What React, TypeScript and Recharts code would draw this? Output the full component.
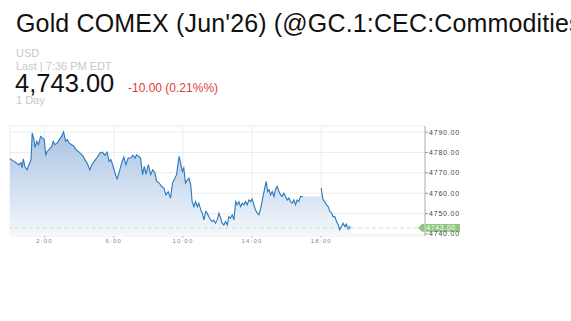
import React from "react";
import {
  ComposedChart,
  Area,
  Line,
  XAxis,
  YAxis,
  CartesianGrid,
  ReferenceLine,
  ReferenceDot,
} from "recharts";

// Day session (minutes after 0:00) and prices
const dayMinutes = [
  0, 10, 21, 31, 38, 42, 46, 52, 59, 64, 69, 73, 77, 83, 87, 93, 99, 106, 112, 119, 124, 129, 135, 145, 150, 156, 164, 171, 179, 186, 193, 199, 205, 214, 222, 229, 237, 246, 254, 260, 269, 277, 284, 292,
  301, 312, 321, 329, 337, 344, 350, 358, 368, 372, 381, 389, 395, 402, 410, 419, 426, 434, 439, 447, 453, 460, 466, 472, 480, 488, 495, 503, 509, 518, 526, 534, 541, 549, 557, 564, 572,
  578, 584, 587, 593, 598, 603, 609, 616, 621, 627, 632, 638, 644, 650, 655, 662, 667, 673, 679, 684, 690, 696, 702, 707, 713, 719, 725, 731, 736, 742, 748, 754, 759, 765, 771, 777, 783, 788, 794, 800, 806, 812, 817, 823, 829, 835, 840, 846, 852, 858, 864, 870, 878, 884, 889, 894, 899, 904, 910, 916, 921, 927, 933, 939, 944, 950, 956, 962, 968, 973, 979, 985, 991, 996, 1002, 1008, 1016,
];
const dayPrices = [
  4776.9, 4776.0, 4775.0, 4774.0, 4775.0, 4772.5, 4776.9, 4773.0, 4771.5, 4773.5, 4775.0, 4776.5, 4789.6, 4786.3, 4782.5, 4785.5, 4783.8, 4787.9, 4787.3, 4786.3, 4778.9, 4780.5, 4781.4, 4783.0, 4785.5, 4783.8, 4784.7, 4786.3, 4787.9, 4790.1, 4785.5, 4786.3, 4784.7, 4783.8, 4783.0, 4781.4, 4780.5, 4779.3, 4778.1, 4776.5, 4774.3, 4771.5, 4774.0, 4775.6,
  4777.3, 4779.8, 4780.2, 4778.6, 4780.2, 4775.6, 4776.5, 4773.2, 4768.2, 4767.1, 4771.5, 4775.6, 4777.8, 4774.0, 4777.3, 4777.3, 4778.6, 4777.3, 4778.9, 4778.1, 4777.3, 4769.1, 4773.2, 4769.4, 4774.0, 4769.1, 4771.5, 4769.9, 4765.8, 4765.0, 4763.3, 4762.5, 4759.2, 4760.8, 4757.6, 4765.0, 4767.4,
  4769.1, 4775.6, 4778.1, 4774.0, 4770.7, 4772.4, 4765.0, 4766.6, 4767.4, 4764.1, 4755.9, 4753.4, 4755.9, 4753.4, 4755.1, 4751.8, 4750.2, 4746.9, 4751.0, 4750.2, 4748.5, 4746.9, 4746.1, 4746.9, 4745.3, 4746.9, 4750.2, 4747.7, 4745.3, 4744.4, 4746.1, 4744.4, 4748.5, 4747.7, 4749.4, 4746.9, 4755.9, 4754.3, 4755.9, 4753.4, 4755.1, 4754.3, 4755.9, 4754.3, 4756.7, 4755.9, 4757.2, 4754.3, 4751.8, 4750.2, 4749.4, 4752.7, 4758.4, 4762.5, 4765.8, 4760.8, 4761.7, 4759.2, 4760.8, 4758.4, 4761.7, 4763.3, 4760.8, 4759.2, 4758.4, 4760.0, 4758.4, 4756.7, 4757.6, 4755.9, 4755.1, 4756.7, 4754.3, 4756.7, 4755.9, 4758.4, 4758.4,
];
// Evening session after the 17:00-18:00 break
const eveningMinutes = [1080, 1084, 1087, 1092, 1098, 1104, 1110, 1116, 1121, 1127, 1133, 1139, 1144, 1150, 1156, 1162, 1167, 1172, 1176];
const eveningPrices = [4762.5, 4758.4, 4756.7, 4755.9, 4754.3, 4753.4, 4751.0, 4750.2, 4748.5, 4748.5, 4746.1, 4744.4, 4742.0, 4743.6, 4745.3, 4743.6, 4744.8, 4742.5, 4743.0];

const yTicks = [4740, 4750, 4760, 4770, 4780, 4790];
const xTicks = [120, 360, 600, 840, 1080];
const lastPrice = 4743.0;
const changeText = "-10.00 (0.21%%)";

const breakLevel = dayPrices[dayPrices.length - 1];
const data: any[] = [
  ...dayMinutes.map((t, i) => ({ t, price: dayPrices[i], fillv: dayPrices[i] })),
  { t: dayMinutes[dayMinutes.length - 1] + 1, price: null, fillv: breakLevel },
  { t: eveningMinutes[0] - 1, price: null, fillv: breakLevel },
  ...eveningMinutes.map((t, i) => ({ t, price: eveningPrices[i], fillv: eveningPrices[i] })),
];

const FONT = "'Liberation Sans', Arial, Helvetica, sans-serif";

const PriceTag = (props: any) => {
  const vb = props.viewBox || {};
  const x = (vb.x || 0) + (vb.width || 0);
  const y = vb.y || 0;
  return (
    <g>
      <polygon
        points={`${x - 7},${y} ${x - 3},${y - 3.8} ${x + 35},${y - 3.8} ${x + 35},${y + 3.8} ${x - 3},${y + 3.8}`}
        fill="#8fc67c"
      />
      <text x={x + 16} y={y + 2.6} textAnchor="middle" fontSize={7} fill="#ffffff" fontFamily={FONT} letterSpacing={0.6}>
        {lastPrice.toFixed(2)}
      </text>
    </g>
  );
};

// lineHeight 0.8: baseline = top + fs * 0.7465
const txt = (baseline: number, left: number, fs: number, color: string, content: string, ls = 0) => (
  <div
    style={{
      position: "absolute",
      top: baseline - fs * 0.7465,
      left,
      fontSize: fs,
      lineHeight: 0.8,
      height: fs * 0.8,
      color,
      fontFamily: FONT,
      whiteSpace: "nowrap",
      letterSpacing: ls,
    }}
  >
    {content}
  </div>
);

export default function App() {
  return (
    <div
      style={{
        position: "absolute",
        top: 0,
        left: 0,
        width: 571,
        height: 321,
        overflow: "hidden",
        background: "#ffffff",
      }}
    >
      {txt(32, 16, 25, "#111111", "Gold COMEX (Jun'26) (@GC.1:CEC:Commodities)", 0.15)}
      {txt(57.4, 16, 11, "#c8c8c8", "USD")}
      {txt(70.7, 16, 11, "#c8c8c8", "Last | 7:36 PM EDT")}
      {txt(92.3, 15, 25.5, "#111111", lastPrice.toLocaleString("en-US", { minimumFractionDigits: 2 }))}
      {txt(93.3, 128, 12, "#e53935", changeText)}
      {txt(104, 16, 11, "#c8c8c8", "1 Day")}
      <div style={{ position: "absolute", top: 120, left: 0 }}>
        <ComposedChart width={480} height={130} data={data} margin={{ top: 6, right: 0, bottom: 0, left: 10 }}>
          <defs>
            <linearGradient id="goldFill" x1="0" y1="0" x2="0" y2="1">
              <stop offset="0%" stopColor="#a8c3e3" stopOpacity={1} />
              <stop offset="100%" stopColor="#f5f8fc" stopOpacity={1} />
            </linearGradient>
          </defs>
          <CartesianGrid stroke="#ececec" strokeWidth={1} />
          <XAxis
            dataKey="t"
            type="number"
            domain={[0, 1440]}
            ticks={xTicks}
            tickFormatter={(v: number) => `${Math.floor(v / 60)}:00`}
            height={14}
            axisLine={false}
            tickLine={{ stroke: "#bbbbbb" }}
            tickSize={2}
            tickMargin={1}
            tick={{ fontSize: 6, fill: "#888888", fontFamily: FONT, letterSpacing: 1.2 }}
            interval={0}
          />
          <YAxis
            orientation="right"
            domain={[4739, 4793]}
            ticks={yTicks}
            tickFormatter={(v: number) => v.toFixed(2)}
            width={55}
            axisLine={{ stroke: "#c8c8c8", strokeWidth: 1.5 }}
            tickLine={{ stroke: "#999999" }}
            tickSize={3}
            tickMargin={1}
            tick={{ fontSize: 7, fill: "#444444", fontFamily: FONT, letterSpacing: 0.8, textAnchor: "start" }}
            interval={0}
            allowDataOverflow
          />
          <Area
            type="linear"
            dataKey="fillv"
            stroke="none"
            fill="url(#goldFill)"
            fillOpacity={1}
            isAnimationActive={false}
            dot={false}
            activeDot={false}
          />
          <ReferenceLine
            y={lastPrice}
            stroke="#cfe3c4"
            strokeDasharray="4 3"
            strokeWidth={1}
            label={(p: any) => <PriceTag {...p} />}
          />
          <Line
            type="linear"
            dataKey="price"
            stroke="#2a78bd"
            strokeWidth={1.1}
            dot={false}
            activeDot={false}
            connectNulls={false}
            isAnimationActive={false}
          />
          <ReferenceDot x={eveningMinutes[eveningMinutes.length - 1]} y={lastPrice} r={2} fill="#5ab4ee" stroke="none" />
        </ComposedChart>
      </div>
    </div>
  );
}
